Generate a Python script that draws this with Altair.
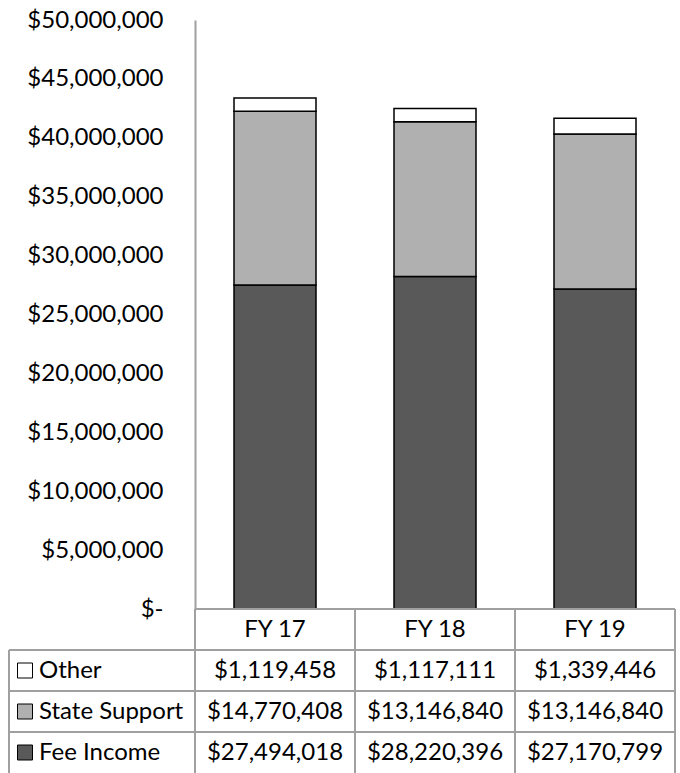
import altair as alt
import pandas as pd

# ---- data ----
years = ["FY 17", "FY 18", "FY 19"]
series = ["Fee Income", "State Support", "Other"]
fee_income = [27494018, 28220396, 27170799]
state_support = [14770408, 13146840, 13146840]
other = [1119458, 1117111, 1339446]
colors = ["#595959", "#b0b0b0", "#ffffff"]
header_row = "Year"
table_rows = [header_row, "Other", "State Support", "Fee Income"]
y_ticks = [0, 5000000, 10000000, 15000000, 20000000, 25000000,
           30000000, 35000000, 40000000, 45000000, 50000000]

values_by_series = {"Fee Income": fee_income, "State Support": state_support, "Other": other}

records = []
for s_idx, s in enumerate(series):
    for y_idx, yr in enumerate(years):
        records.append({"year": yr, "series": s, "value": values_by_series[s][y_idx], "order": s_idx})
df = pd.DataFrame(records)
hdr_df = pd.DataFrame({"year": years, "row": [header_row] * len(years)})
rows_df = pd.DataFrame({"row": table_rows[1:], "series": table_rows[1:]})
last_col_df = pd.DataFrame({"year": [years[-1]]})

FONT = "Lato"
FS = 24
LINE = "#a0a0a0"
PLOT_W = 480
TOP_H = 589
TABLE_H = 164
LABEL_COL = 186

x_scale = alt.Scale(domain=years, paddingInner=0, paddingOuter=0)
row_scale = alt.Scale(domain=table_rows, paddingInner=0, paddingOuter=0)
color_scale = alt.Scale(domain=series, range=colors)

# ---- top: stacked bars ----
bars = alt.Chart(df).mark_bar(size=82, stroke="black", strokeWidth=1.5).encode(
    x=alt.X("year:N", scale=x_scale, axis=None, sort=years),
    y=alt.Y(
        "value:Q",
        stack="zero",
        scale=alt.Scale(domain=[0, 50000000], nice=False),
        axis=alt.Axis(
            values=y_ticks,
            labelExpr="datum.value == 0 ? '$-' : format(datum.value, '$,.0f')",
            grid=False,
            ticks=False,
            domainColor=LINE,
            domainWidth=2,
            labelFont=FONT,
            labelFontSize=FS,
            labelColor="black",
            labelPadding=32,
            title=None,
        ),
    ),
    color=alt.Color("series:N", scale=color_scale, legend=None),
    order=alt.Order("order:Q", sort="ascending"),
).properties(width=PLOT_W, height=TOP_H)

# ---- bottom: data table ----
base_x = alt.X("year:N", scale=x_scale, axis=None, sort=years)
base_y = alt.Y("row:N", scale=row_scale, axis=None, sort=table_rows)

header_text = alt.Chart(hdr_df).mark_text(font=FONT, fontSize=FS, color="black", baseline="middle").encode(
    x=base_x, y=base_y, text="year:N"
)

value_text = alt.Chart(df).mark_text(font=FONT, fontSize=FS, color="black", baseline="middle").encode(
    x=base_x,
    y=alt.Y("series:N", scale=row_scale, axis=None, sort=table_rows),
    text=alt.Text("value:Q", format="$,.0f"),
)

vlines = alt.Chart(hdr_df).mark_rule(color=LINE, strokeWidth=2).encode(
    x=alt.X("year:N", scale=x_scale, axis=None, sort=years, bandPosition=0)
)
vline_last = alt.Chart(last_col_df).mark_rule(color=LINE, strokeWidth=2).encode(
    x=alt.X("year:N", scale=x_scale, axis=None, sort=years, bandPosition=1)
)
hline_top = alt.Chart(hdr_df.head(1)).mark_rule(color=LINE, strokeWidth=2).encode(
    y=alt.Y("row:N", scale=row_scale, axis=None, sort=table_rows, bandPosition=0)
)
hlines = alt.Chart(rows_df).mark_rule(color=LINE, strokeWidth=2).encode(
    y=alt.Y("row:N", scale=row_scale, axis=None, sort=table_rows, bandPosition=0),
    x=alt.value(-LABEL_COL),
    x2=alt.value(PLOT_W),
)
left_edge = alt.Chart(rows_df).mark_rule(color=LINE, strokeWidth=2).encode(
    y=alt.Y("row:N", scale=row_scale, axis=None, sort=table_rows, bandPosition=0),
    y2=alt.Y2("row:N", bandPosition=1),
    x=alt.value(-LABEL_COL),
)

squares = alt.Chart(rows_df).mark_square(size=225, stroke="black", strokeWidth=1, opacity=1, filled=True).encode(
    x=alt.value(-170),
    y=base_y,
    fill=alt.Fill("series:N", scale=color_scale, legend=None),
)
row_labels = alt.Chart(rows_df).mark_text(font=FONT, fontSize=FS, color="black", align="left", baseline="middle").encode(
    x=alt.value(-156),
    y=base_y,
    text="series:N",
)

table = alt.layer(
    vlines, vline_last, hline_top, hlines, left_edge, header_text, value_text, squares, row_labels
).resolve_scale(fill="independent").properties(width=PLOT_W, height=TABLE_H)

chart = alt.vconcat(bars, table, spacing=0, bounds="flush").properties(
    padding={"left": 8, "top": 8, "right": 4, "bottom": 0}
).configure(background="white", view=alt.ViewConfig(strokeWidth=0))

chart.save("out.html", embed_options={"renderer": "svg", "actions": False})
